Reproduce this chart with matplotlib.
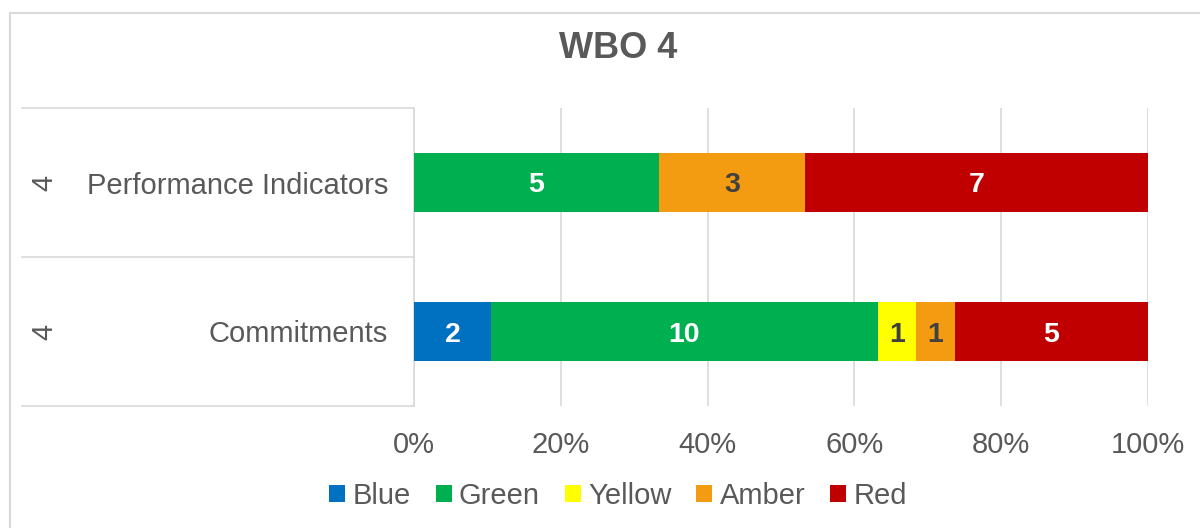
import matplotlib.pyplot as plt
import matplotlib.transforms as mtransforms
import numpy as np

plt.rcParams['font.family'] = ['Liberation Sans', 'DejaVu Sans']

# data
categories = ["Commitments", "Performance Indicators"]
groups = ["4", "4"]
series = ["Blue", "Green", "Yellow", "Amber", "Red"]
counts = {
    "Blue": [2, 0],
    "Green": [10, 5],
    "Yellow": [1, 0],
    "Amber": [1, 3],
    "Red": [5, 7],
}
colors = {"Blue": "#0070C0", "Green": "#00B050", "Yellow": "#FFFF00",
          "Amber": "#F39C12", "Red": "#C00000"}
label_colors = {"Blue": "white", "Green": "white", "Yellow": "#404040",
                "Amber": "#404040", "Red": "white"}
title = "WBO 4"

W, H = 1200, 528
fig = plt.figure(figsize=(W / 100, H / 100), dpi=100)
ax = fig.add_axes([414 / W, (H - 406) / H, 734 / W, 298 / H])

text_col = "#595959"
grid_col = "#D9D9D9"

# labels sit a few pixels lower than the true centre, like in Excel
down = mtransforms.offset_copy(ax.transData, fig=fig, x=0, y=-3, units="dots")

y = np.arange(len(categories))
totals = np.sum([counts[s] for s in series], axis=0)
left = np.zeros(len(categories))
for s in series:
    vals = np.array(counts[s], dtype=float)
    frac = vals / totals
    ax.barh(y, frac, left=left, height=0.39, color=colors[s], label=s, zorder=3)
    for i, v in enumerate(vals):
        if v > 0:
            ax.text(left[i] + frac[i] / 2, y[i], f"{int(v)}", ha="center", va="center",
                    fontsize=20.5, fontweight="bold", color=label_colors[s], zorder=4,
                    transform=down)
    left += frac

ax.set_xlim(0, 1)
ax.set_ylim(-0.5, 1.5)
ax.set_xticks(np.linspace(0, 1, 6))
ax.set_xticklabels([f"{int(t * 100)}%" for t in np.linspace(0, 1, 6)])
ax.tick_params(axis="x", length=0, labelsize=21, labelcolor=text_col, pad=18)
ax.set_yticks([])
ax.grid(axis="x", color=grid_col, linewidth=1.2, zorder=0)
for sp in ["top", "right", "bottom"]:
    ax.spines[sp].set_visible(False)
ax.spines["left"].set_color(grid_col)
ax.spines["left"].set_linewidth(1.2)

# multi-level category axis
tr = mtransforms.blended_transform_factory(fig.transFigure, ax.transData)
tr_down = mtransforms.offset_copy(tr, fig=fig, x=0, y=-3, units="dots")
for yy in [-0.5, 0.5, 1.5]:
    ax.plot([22 / W, 414 / W], [yy, yy], color=grid_col, linewidth=1.2,
            transform=tr, clip_on=False)
for i, c in enumerate(categories):
    ax.text(388 / W, y[i], c, transform=tr_down, ha="right", va="center",
            fontsize=21, color=text_col)
    ax.text(44 / W, y[i], groups[i], transform=tr, ha="center", va="center",
            fontsize=21, color=text_col, rotation=90)

fig.text(618 / W, 1 - 48 / H, title, ha="center", va="center", fontsize=26,
         fontweight="bold", color=text_col)

handles, labels = ax.get_legend_handles_labels()
leg = fig.legend(handles, labels, loc="center", bbox_to_anchor=(618 / W, 1 - 496 / H),
                 ncol=5, frameon=False, fontsize=21, handlelength=0.55, handleheight=0.55,
                 handletextpad=0.25, columnspacing=0.85)
for t in leg.get_texts():
    t.set_color(text_col)

# chart border (left and top visible)
fig.add_artist(plt.Line2D([10 / W, 10 / W], [0, 1 - 13 / H], color=grid_col,
                          linewidth=1.5, transform=fig.transFigure))
fig.add_artist(plt.Line2D([10 / W, 1], [1 - 13 / H, 1 - 13 / H], color=grid_col,
                          linewidth=1.5, transform=fig.transFigure))

fig.savefig("out.png", dpi=100)
